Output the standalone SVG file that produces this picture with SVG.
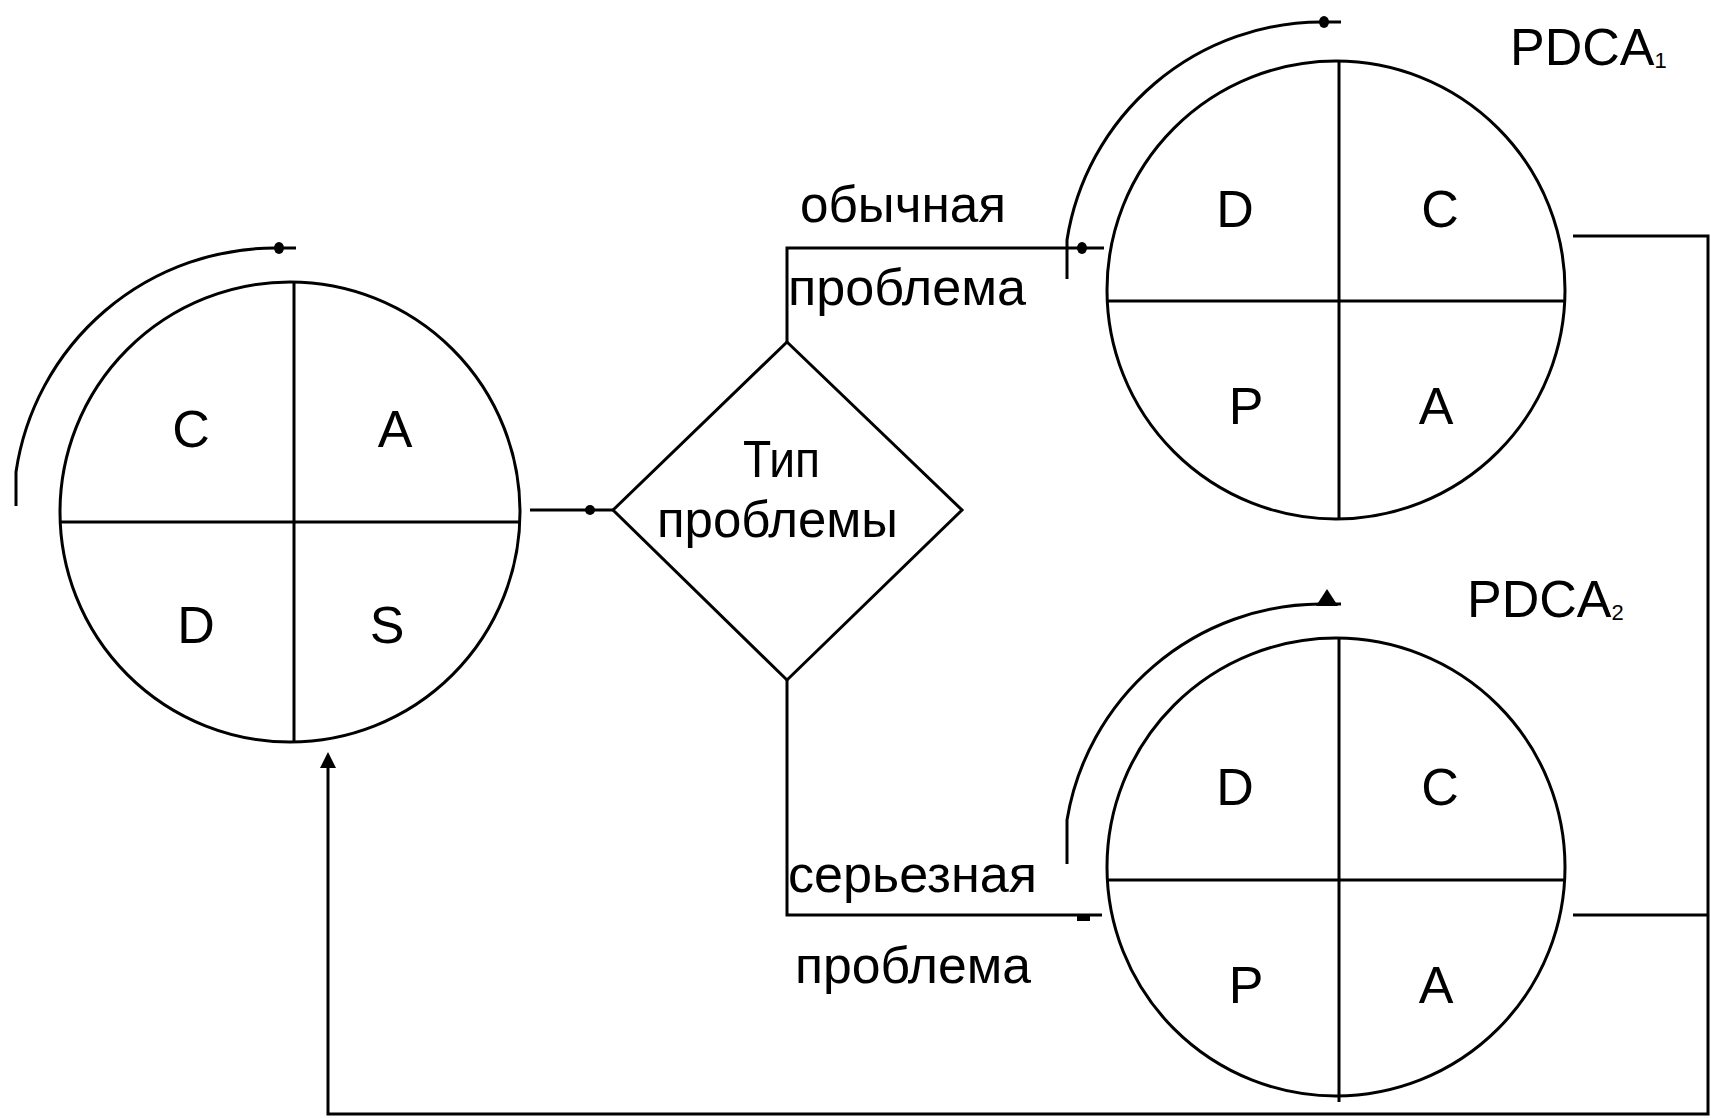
<svg xmlns="http://www.w3.org/2000/svg" width="1711" height="1118" viewBox="0 0 1711 1118">
<style>
.ln{fill:none;stroke:#000;stroke-width:3}
.ci{fill:none;stroke:#000;stroke-width:3}
.let{font-family:"Liberation Sans",Arial,sans-serif;font-size:52px;fill:#000;text-anchor:middle}
.lab{font-family:"Liberation Sans",Arial,sans-serif;font-size:52px;fill:#000}
.dot{fill:#000}
</style>
<rect width="1711" height="1118" fill="#fff"/>

<g id="cycle-left">
<circle class="ci" cx="290" cy="512" r="230"/>
<line class="ln" x1="60" y1="522" x2="520" y2="522"/>
<line class="ln" x1="294" y1="282" x2="294" y2="742"/>
<text class="let" x="191" y="447">C</text>
<text class="let" x="395" y="447">A</text>
<text class="let" x="196" y="643">D</text>
<text class="let" x="387" y="643">S</text>
<path class="ln" d="M16 506 L16 472 A262 262 0 0 1 279 248 L296 248"/>
<ellipse class="dot" cx="279" cy="248" rx="5" ry="6"/>
</g>

<g id="decision">
<polygon class="ln" points="613,510 787,342 962,510 787,680"/>
<text class="lab" x="743" y="477" textLength="77" lengthAdjust="spacingAndGlyphs">Тип</text>
<text class="lab" x="657" y="537" textLength="241" lengthAdjust="spacingAndGlyphs">проблемы</text>
</g>

<g id="pdca1">
<circle class="ci" cx="1336" cy="290" r="229"/>
<line class="ln" x1="1107" y1="301" x2="1565" y2="301"/>
<line class="ln" x1="1339" y1="61" x2="1339" y2="519"/>
<text class="let" x="1235" y="227">D</text>
<text class="let" x="1440" y="227">C</text>
<text class="let" x="1246" y="424">P</text>
<text class="let" x="1436" y="424">A</text>
<path class="ln" d="M1067 279 L1067 240 A258 258 0 0 1 1324 22 L1341 22"/>
<ellipse class="dot" cx="1324" cy="22" rx="5" ry="6"/>
<text class="lab" x="1510" y="65">PDCA<tspan font-size="22" dy="3">1</tspan></text>
</g>

<g id="pdca2">
<circle class="ci" cx="1336" cy="867" r="229"/>
<line class="ln" x1="1107" y1="880" x2="1565" y2="880"/>
<line class="ln" x1="1339" y1="638" x2="1339" y2="1102"/>
<text class="let" x="1235" y="805">D</text>
<text class="let" x="1440" y="805">C</text>
<text class="let" x="1246" y="1003">P</text>
<text class="let" x="1436" y="1003">A</text>
<path class="ln" d="M1067 864 L1067 820 A258 258 0 0 1 1320 604 L1341 604"/>
<polygon class="dot" points="1316,606 1327,589 1338,606"/>
<text class="lab" x="1467" y="617">PDCA<tspan font-size="22" dy="3">2</tspan></text>
</g>

<g id="labels">
<text class="lab" x="800" y="222" textLength="206" lengthAdjust="spacingAndGlyphs">обычная</text>
<text class="lab" x="788" y="305" textLength="238" lengthAdjust="spacingAndGlyphs">проблема</text>
<text class="lab" x="788" y="892" textLength="249" lengthAdjust="spacingAndGlyphs">серьезная</text>
<text class="lab" x="795" y="983" textLength="236" lengthAdjust="spacingAndGlyphs">проблема</text>
</g>

<g id="connectors">
<line class="ln" x1="530" y1="510" x2="613" y2="510"/>
<ellipse class="dot" cx="590" cy="510" rx="5" ry="5"/>
<path class="ln" d="M787 342 L787 248 L1104 248"/>
<ellipse class="dot" cx="1082" cy="248" rx="5" ry="6"/>
<path class="ln" d="M787 680 L787 915 L1102 915"/>
<rect class="dot" x="1077" y="914" width="13" height="7"/>
<path class="ln" d="M1573 236 L1708 236 L1708 1114 L328 1114 L328 758"/>
<polygon class="dot" points="320,768 328,752 336,768"/>
<line class="ln" x1="1573" y1="915" x2="1708" y2="915"/>
</g>
</svg>
